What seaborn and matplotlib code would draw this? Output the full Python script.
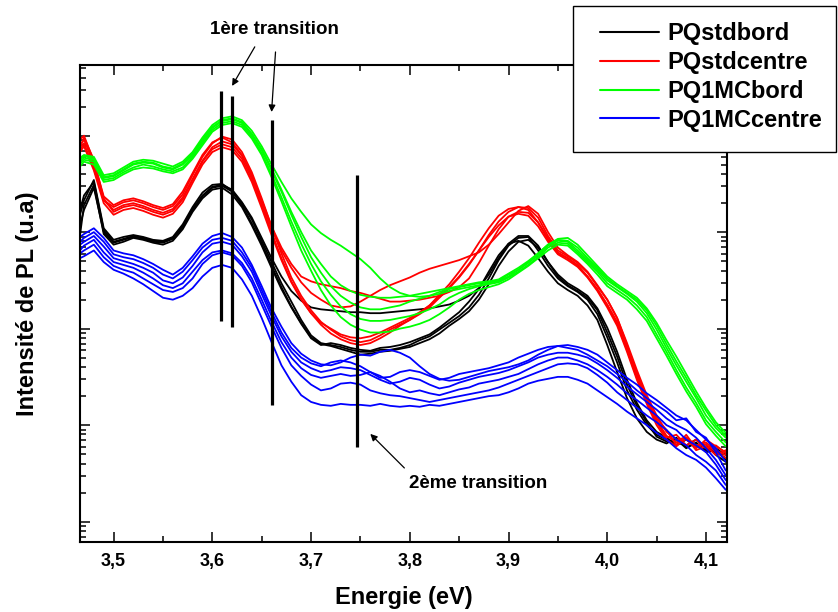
import numpy as np
import pandas as pd
import matplotlib
matplotlib.use('Agg')
import matplotlib.pyplot as plt
import seaborn as sns
from matplotlib.lines import Line2D
from matplotlib.patches import Rectangle
from matplotlib.ticker import MultipleLocator, LogLocator, NullFormatter, FuncFormatter

# photon energy (eV)
energy = [3.466, 3.47, 3.48, 3.49, 3.50, 3.51, 3.52, 3.53, 3.54, 3.55,
          3.56, 3.57, 3.58, 3.59, 3.60, 3.61, 3.62, 3.63, 3.64, 3.65,
          3.66, 3.67, 3.68, 3.69, 3.70, 3.71, 3.72, 3.73, 3.74, 3.75,
          3.76, 3.77, 3.78, 3.79, 3.80, 3.81, 3.82, 3.83, 3.84, 3.85,
          3.86, 3.87, 3.88, 3.89, 3.90, 3.91, 3.92, 3.93, 3.94, 3.95,
          3.96, 3.97, 3.98, 3.99, 4.00, 4.01, 4.02, 4.03, 4.04, 4.05,
          4.06, 4.07, 4.08, 4.09, 4.10, 4.11, 4.12]

# log10 of the PL intensity (a.u.), one list per measured spot
pq_std_bord = [
    [4.18, 4.33, 4.54, 4.04, 3.92, 3.95, 3.97, 3.95, 3.92, 3.91,
     3.95, 4.08, 4.26, 4.41, 4.49, 4.50, 4.43, 4.30, 4.13, 3.91,
     3.69, 3.47, 3.28, 3.09, 2.93, 2.85, 2.83, 2.81, 2.78, 2.76,
     2.76, 2.78, 2.78, 2.80, 2.83, 2.88, 2.92, 2.99, 3.06, 3.13,
     3.22, 3.35, 3.52, 3.71, 3.86, 3.94, 3.95, 3.81, 3.65, 3.52,
     3.44, 3.38, 3.30, 3.15, 2.91, 2.65, 2.36, 2.16, 2.00, 1.90,
     1.85, 1.82, 1.79, 1.85, 1.76, 1.72, 1.66],
    [4.07, 4.23, 4.46, 4.00, 3.89, 3.92, 3.95, 3.93, 3.90, 3.89,
     3.93, 4.05, 4.23, 4.37, 4.46, 4.48, 4.42, 4.28, 4.09, 3.88,
     3.65, 3.43, 3.23, 3.06, 2.91, 2.84, 2.82, 2.79, 2.76, 2.73,
     2.74, 2.76, 2.77, 2.79, 2.81, 2.85, 2.89, 2.95, 3.03, 3.10,
     3.18, 3.30, 3.46, 3.65, 3.80, 3.90, 3.92, 3.84, 3.69, 3.56,
     3.47, 3.41, 3.34, 3.21, 3.01, 2.76, 2.47, 2.23, 2.05, 1.93,
     1.87, 1.79, 1.85, 1.78, 1.80, 1.69, 1.62],
    [3.97, 4.28, 4.49, 3.98, 3.87, 3.90, 3.94, 3.92, 3.89, 3.87,
     3.91, 4.03, 4.21, 4.35, 4.44, 4.46, 4.39, 4.26, 4.07, 3.86,
     3.63, 3.41, 3.22, 3.05, 2.90, 2.83, 2.85, 2.83, 2.80, 2.78,
     2.77, 2.80, 2.81, 2.83, 2.86, 2.90, 2.94, 3.01, 3.09, 3.17,
     3.28, 3.41, 3.59, 3.76, 3.88, 3.91, 3.86, 3.73, 3.59, 3.47,
     3.40, 3.34, 3.24, 3.09, 2.83, 2.55, 2.28, 2.07, 1.93, 1.85,
     1.81, 1.87, 1.77, 1.81, 1.74, 1.76, 1.69],
    [4.23, 4.38, 4.52, 4.02, 3.90, 3.93, 3.96, 3.94, 3.91, 3.90,
     3.94, 4.06, 4.24, 4.38, 4.47, 4.49, 4.44, 4.31, 4.15, 3.94,
     3.73, 3.54, 3.39, 3.29, 3.22, 3.20, 3.19, 3.18, 3.17, 3.17,
     3.16, 3.16, 3.17, 3.18, 3.19, 3.20, 3.21, 3.23, 3.25, 3.29,
     3.34, 3.42, 3.56, 3.73, 3.88, 3.96, 3.96, 3.86, 3.69, 3.54,
     3.45, 3.39, 3.32, 3.19, 2.96, 2.71, 2.42, 2.20, 2.03, 1.88,
     1.83, 1.85, 1.76, 1.82, 1.72, 1.74, 1.64],
]

pq_std_centre = [
    [4.96, 5.00, 4.73, 4.37, 4.28, 4.33, 4.35, 4.32, 4.28, 4.25,
     4.29, 4.42, 4.61, 4.80, 4.93, 4.98, 4.93, 4.80, 4.58, 4.31,
     4.04, 3.81, 3.63, 3.48, 3.37, 3.30, 3.24, 3.22, 3.23, 3.28,
     3.34, 3.40, 3.45, 3.49, 3.53, 3.58, 3.62, 3.65, 3.68, 3.71,
     3.75, 3.79, 3.87, 3.98, 4.10, 4.22, 4.27, 4.19, 4.00, 3.84,
     3.76, 3.69, 3.59, 3.45, 3.30, 3.11, 2.83, 2.54, 2.28, 2.07,
     1.95, 1.79, 1.90, 1.76, 1.85, 1.78, 1.72],
    [4.85, 4.92, 4.66, 4.33, 4.23, 4.28, 4.30, 4.27, 4.23, 4.20,
     4.24, 4.36, 4.55, 4.74, 4.88, 4.94, 4.91, 4.79, 4.59, 4.33,
     4.06, 3.84, 3.67, 3.54, 3.49, 3.46, 3.44, 3.42, 3.39, 3.37,
     3.34, 3.31, 3.28, 3.28, 3.29, 3.30, 3.32, 3.34, 3.38, 3.43,
     3.52, 3.68, 3.86, 4.03, 4.16, 4.21, 4.20, 4.10, 3.94, 3.79,
     3.73, 3.66, 3.54, 3.41, 3.25, 3.07, 2.80, 2.51, 2.26, 2.05,
     1.89, 1.82, 1.85, 1.77, 1.80, 1.72, 1.66],
    [4.90, 4.96, 4.70, 4.33, 4.26, 4.31, 4.33, 4.30, 4.26, 4.23,
     4.27, 4.39, 4.59, 4.78, 4.92, 4.99, 4.96, 4.83, 4.62, 4.35,
     4.06, 3.78, 3.53, 3.34, 3.19, 3.07, 2.99, 2.92, 2.88, 2.86,
     2.88, 2.93, 2.99, 3.04, 3.09, 3.15, 3.22, 3.32, 3.42, 3.53,
     3.66, 3.81, 3.97, 4.11, 4.21, 4.26, 4.25, 4.15, 3.96, 3.81,
     3.75, 3.68, 3.58, 3.44, 3.30, 3.11, 2.85, 2.57, 2.31, 2.10,
     1.93, 1.85, 1.87, 1.79, 1.82, 1.74, 1.69],
    [4.87, 4.98, 4.75, 4.35, 4.21, 4.26, 4.28, 4.25, 4.21, 4.18,
     4.22, 4.34, 4.54, 4.73, 4.86, 4.91, 4.88, 4.76, 4.55, 4.28,
     4.00, 3.73, 3.49, 3.31, 3.16, 3.04, 2.95, 2.89, 2.85, 2.83,
     2.85, 2.90, 2.96, 3.03, 3.09, 3.16, 3.24, 3.35, 3.46, 3.59,
     3.73, 3.89, 4.04, 4.17, 4.24, 4.26, 4.23, 4.10, 3.92, 3.78,
     3.73, 3.65, 3.54, 3.40, 3.24, 3.05, 2.78, 2.49, 2.24, 2.03,
     1.87, 1.90, 1.79, 1.85, 1.76, 1.79, 1.71],
    [4.83, 4.89, 4.64, 4.30, 4.18, 4.23, 4.25, 4.22, 4.18, 4.15,
     4.19, 4.31, 4.51, 4.70, 4.83, 4.88, 4.85, 4.73, 4.52, 4.25,
     3.97, 3.71, 3.48, 3.30, 3.16, 3.06, 3.00, 2.94, 2.91, 2.90,
     2.92, 2.96, 3.01, 3.06, 3.11, 3.17, 3.24, 3.33, 3.43, 3.54,
     3.67, 3.81, 3.95, 4.07, 4.16, 4.19, 4.17, 4.06, 3.90, 3.77,
     3.71, 3.64, 3.53, 3.39, 3.22, 3.03, 2.76, 2.47, 2.22, 2.00,
     1.85, 1.78, 1.87, 1.74, 1.78, 1.69, 1.74],
]

pq_1mc_bord = [
    [4.77, 4.80, 4.78, 4.59, 4.61, 4.67, 4.73, 4.75, 4.74, 4.71,
     4.68, 4.73, 4.83, 4.98, 5.11, 5.18, 5.20, 5.16, 5.05, 4.89,
     4.70, 4.52, 4.35, 4.21, 4.08, 3.99, 3.92, 3.86, 3.79, 3.72,
     3.63, 3.52, 3.43, 3.37, 3.34, 3.33, 3.34, 3.36, 3.39, 3.41,
     3.43, 3.45, 3.47, 3.49, 3.54, 3.61, 3.69, 3.78, 3.87, 3.93,
     3.94, 3.87, 3.76, 3.65, 3.54, 3.46, 3.39, 3.32, 3.21, 3.06,
     2.88, 2.71, 2.53, 2.35, 2.18, 2.03, 1.92],
    [4.75, 4.79, 4.76, 4.57, 4.59, 4.65, 4.71, 4.73, 4.72, 4.68,
     4.66, 4.71, 4.81, 4.96, 5.09, 5.16, 5.18, 5.14, 5.02, 4.86,
     4.66, 4.44, 4.21, 4.00, 3.81, 3.67, 3.54, 3.45, 3.39, 3.35,
     3.33, 3.32, 3.32, 3.33, 3.34, 3.36, 3.38, 3.40, 3.42, 3.44,
     3.46, 3.48, 3.49, 3.51, 3.57, 3.63, 3.70, 3.78, 3.87, 3.92,
     3.91, 3.84, 3.73, 3.63, 3.52, 3.44, 3.37, 3.30, 3.19, 3.03,
     2.84, 2.66, 2.49, 2.31, 2.15, 2.00, 1.89],
    [4.73, 4.77, 4.75, 4.56, 4.58, 4.64, 4.70, 4.72, 4.71, 4.67,
     4.65, 4.70, 4.80, 4.94, 5.08, 5.15, 5.17, 5.13, 5.01, 4.85,
     4.64, 4.42, 4.18, 3.95, 3.74, 3.58, 3.44, 3.34, 3.27, 3.22,
     3.20, 3.20, 3.22, 3.24, 3.28, 3.31, 3.34, 3.38, 3.41, 3.43,
     3.45, 3.47, 3.48, 3.50, 3.56, 3.61, 3.68, 3.76, 3.86, 3.91,
     3.90, 3.81, 3.71, 3.61, 3.50, 3.43, 3.36, 3.28, 3.16, 2.99,
     2.80, 2.62, 2.45, 2.28, 2.10, 1.97, 1.87],
    [4.71, 4.75, 4.73, 4.54, 4.56, 4.62, 4.67, 4.70, 4.68, 4.65,
     4.63, 4.67, 4.78, 4.92, 5.06, 5.13, 5.15, 5.11, 4.99, 4.82,
     4.60, 4.36, 4.11, 3.88, 3.67, 3.49, 3.35, 3.23, 3.15, 3.10,
     3.08, 3.08, 3.09, 3.11, 3.13, 3.16, 3.20, 3.25, 3.32, 3.37,
     3.41, 3.44, 3.46, 3.48, 3.53, 3.59, 3.66, 3.74, 3.84, 3.89,
     3.88, 3.79, 3.69, 3.59, 3.47, 3.40, 3.33, 3.24, 3.12, 2.94,
     2.76, 2.57, 2.39, 2.23, 2.05, 1.93, 1.82],
    [4.68, 4.73, 4.70, 4.52, 4.54, 4.60, 4.65, 4.67, 4.66, 4.63,
     4.61, 4.65, 4.76, 4.90, 5.04, 5.11, 5.13, 5.09, 4.97, 4.80,
     4.57, 4.32, 4.06, 3.81, 3.60, 3.40, 3.24, 3.12, 3.04, 2.99,
     2.96, 2.96, 2.97, 3.00, 3.02, 3.05, 3.09, 3.15, 3.22, 3.30,
     3.36, 3.40, 3.43, 3.46, 3.51, 3.58, 3.65, 3.73, 3.81, 3.87,
     3.86, 3.77, 3.67, 3.56, 3.44, 3.37, 3.30, 3.20, 3.08, 2.90,
     2.72, 2.53, 2.35, 2.19, 2.01, 1.89, 1.78],
]

pq_1mc_centre = [
    [3.95, 3.98, 4.04, 3.94, 3.81, 3.78, 3.76, 3.72, 3.67, 3.61,
     3.56, 3.63, 3.75, 3.88, 3.96, 3.99, 3.95, 3.84, 3.66, 3.44,
     3.21, 3.02, 2.85, 2.74, 2.67, 2.63, 2.62, 2.65, 2.70, 2.73,
     2.72, 2.76, 2.78, 2.75, 2.70, 2.61, 2.53, 2.48, 2.46, 2.47,
     2.50, 2.53, 2.56, 2.58, 2.60, 2.63, 2.67, 2.73, 2.78, 2.82,
     2.83, 2.81, 2.78, 2.73, 2.65, 2.57, 2.49, 2.42, 2.33, 2.26,
     2.18, 2.10, 2.05, 1.95, 1.85, 1.76, 1.62],
    [3.90, 3.94, 4.00, 3.90, 3.77, 3.74, 3.72, 3.68, 3.63, 3.56,
     3.52, 3.59, 3.71, 3.84, 3.92, 3.94, 3.91, 3.79, 3.63, 3.40,
     3.17, 2.96, 2.80, 2.70, 2.64, 2.61, 2.65, 2.67, 2.65, 2.61,
     2.55, 2.49, 2.50, 2.55, 2.57, 2.55, 2.51, 2.47, 2.49, 2.53,
     2.55, 2.57, 2.59, 2.62, 2.65, 2.70, 2.74, 2.78, 2.81, 2.82,
     2.80, 2.78, 2.73, 2.67, 2.61, 2.53, 2.45, 2.36, 2.28, 2.21,
     2.14, 2.05, 2.07, 1.93, 1.87, 1.72, 1.53],
    [3.87, 3.90, 3.96, 3.85, 3.73, 3.70, 3.67, 3.63, 3.58, 3.50,
     3.47, 3.53, 3.65, 3.79, 3.88, 3.90, 3.87, 3.75, 3.59, 3.36,
     3.13, 2.92, 2.76, 2.65, 2.59, 2.55, 2.57, 2.60, 2.59, 2.57,
     2.52, 2.47, 2.43, 2.45, 2.49, 2.47, 2.42, 2.38, 2.40, 2.44,
     2.47, 2.50, 2.52, 2.54, 2.57, 2.61, 2.65, 2.70, 2.73, 2.75,
     2.75, 2.73, 2.70, 2.64, 2.57, 2.49, 2.40, 2.32, 2.24, 2.16,
     2.07, 2.00, 1.95, 1.87, 1.76, 1.64, 1.48],
    [3.81, 3.86, 3.92, 3.79, 3.69, 3.66, 3.63, 3.58, 3.52, 3.45,
     3.42, 3.47, 3.59, 3.71, 3.79, 3.81, 3.78, 3.68, 3.52, 3.30,
     3.07, 2.86, 2.70, 2.59, 2.52, 2.49, 2.51, 2.53, 2.51, 2.52,
     2.55, 2.51, 2.45, 2.38, 2.34, 2.36, 2.33, 2.31, 2.34, 2.37,
     2.39, 2.43, 2.45, 2.47, 2.50, 2.53, 2.58, 2.63, 2.67, 2.70,
     2.70, 2.67, 2.63, 2.57, 2.50, 2.42, 2.33, 2.26, 2.18, 2.10,
     2.00, 1.95, 1.85, 1.79, 1.72, 1.59, 1.43],
    [3.78, 3.81, 3.87, 3.74, 3.65, 3.61, 3.58, 3.52, 3.46, 3.40,
     3.38, 3.42, 3.52, 3.67, 3.76, 3.79, 3.76, 3.65, 3.48, 3.25,
     3.02, 2.80, 2.62, 2.51, 2.42, 2.36, 2.38, 2.43, 2.44, 2.42,
     2.36, 2.33, 2.31, 2.30, 2.28, 2.26, 2.24, 2.26, 2.28, 2.30,
     2.32, 2.34, 2.36, 2.39, 2.43, 2.47, 2.51, 2.55, 2.59, 2.63,
     2.64, 2.63, 2.59, 2.52, 2.44, 2.34, 2.26, 2.18, 2.10, 2.03,
     1.95, 1.85, 1.79, 1.69, 1.62, 1.53, 1.38],
    [3.73, 3.75, 3.81, 3.69, 3.61, 3.57, 3.52, 3.46, 3.39, 3.32,
     3.30, 3.34, 3.42, 3.54, 3.63, 3.66, 3.63, 3.51, 3.34, 3.11,
     2.86, 2.62, 2.45, 2.31, 2.24, 2.21, 2.20, 2.22, 2.21, 2.21,
     2.20, 2.22, 2.20, 2.19, 2.20, 2.19, 2.21, 2.20, 2.22, 2.24,
     2.26, 2.28, 2.30, 2.31, 2.34, 2.38, 2.43, 2.46, 2.48, 2.50,
     2.50, 2.47, 2.43, 2.36, 2.29, 2.22, 2.14, 2.07, 2.00, 1.92,
     1.85, 1.76, 1.69, 1.64, 1.56, 1.45, 1.33],
]

samples = ['PQstdbord', 'PQstdcentre', 'PQ1MCbord', 'PQ1MCcentre']
colors = ['#000000', '#ff0000', '#00ff00', '#0000ff']

# markers of the transitions (energy, log10 bottom, log10 top)
trans_energy = [3.609, 3.620, 3.660, 3.747]
trans_low = [3.08, 3.02, 2.21, 1.77]
trans_high = [5.46, 5.41, 5.16, 4.59]

# build a long table for seaborn
rows = []
for name, curves in zip(samples, [pq_std_bord, pq_std_centre, pq_1mc_bord, pq_1mc_centre]):
    for k, curve in enumerate(curves):
        for e, v in zip(energy, curve):
            rows.append((name, f'{name}_{k}', e, 10 ** v))
df = pd.DataFrame(rows, columns=['sample', 'curve', 'energy', 'intensity'])

sns.set_style('ticks')
plt.rcParams['font.family'] = ['Liberation Sans', 'DejaVu Sans']
plt.rcParams['font.weight'] = 'bold'
plt.rcParams['text.color'] = 'black'
plt.rcParams['axes.labelcolor'] = 'black'
plt.rcParams['xtick.color'] = 'black'
plt.rcParams['ytick.color'] = 'black'

fig = plt.figure(figsize=(8.38, 6.12), dpi=100)
ax = fig.add_axes([0.0955, 0.1149, 0.7717, 0.7789])
ax.set_yscale('log')

sns.lineplot(data=df, x='energy', y='intensity', hue='sample', units='curve',
             estimator=None, hue_order=samples, palette=colors, linewidth=1.3,
             sort=False, legend=False, ax=ax)

ax.vlines(trans_energy, [10 ** v for v in trans_low], [10 ** v for v in trans_high],
          color='black', linewidth=2.3)

ax.set_xlim(3.466, 4.121)
ax.set_ylim(10 ** 0.792, 10 ** 5.732)

# annotations
arrow = dict(arrowstyle='-|>', color='black', lw=0.9, mutation_scale=10, shrinkA=0, shrinkB=0)
ax.text(3.663, 10 ** 6.095, '1ère transition', ha='center', va='center', fontsize=13.5,
        fontweight='bold', clip_on=False)
ax.annotate('', xy=(3.620, 10 ** 5.515), xytext=(3.643, 10 ** 5.92), arrowprops=arrow,
            annotation_clip=False)
ax.annotate('', xy=(3.660, 10 ** 5.245), xytext=(3.664, 10 ** 5.867), arrowprops=arrow,
            annotation_clip=False)
ax.text(3.8695, 10 ** 1.39, '2ème transition', ha='center', va='center', fontsize=13.5,
        fontweight='bold')
ax.annotate('', xy=(3.760, 10 ** 1.909), xytext=(3.7945, 10 ** 1.556), arrowprops=arrow)

# axes / ticks
ax.xaxis.set_major_locator(MultipleLocator(0.1))
ax.xaxis.set_minor_locator(MultipleLocator(0.05))
ax.xaxis.set_major_formatter(FuncFormatter(lambda v, p: f'{v:.1f}'.replace('.', ',')))
ax.yaxis.set_major_locator(LogLocator(base=10, numticks=20))
ax.yaxis.set_minor_locator(LogLocator(base=10, subs=np.arange(2, 10), numticks=20))
ax.yaxis.set_major_formatter(NullFormatter())
ax.yaxis.set_minor_formatter(NullFormatter())
ax.tick_params(which='both', direction='in', top=True, right=True, width=1.1, color='black')
ax.tick_params(which='major', length=7)
ax.tick_params(which='minor', length=4)
ax.tick_params(axis='x', labelsize=13, pad=8, labelcolor='black')
for s in ax.spines.values():
    s.set_linewidth(1.5)
    s.set_color('black')

ax.set_xlabel('Energie (eV)', fontsize=17, fontweight='bold')
ax.xaxis.set_label_coords(0.5, -0.093)
ax.set_ylabel('Intensité de PL (u.a)', fontsize=17, fontweight='bold')
ax.yaxis.set_label_coords(-0.064, 0.5)

# legend: frameless entries inside a drawn box
fig.patches.append(Rectangle((573 / 838, 1 - 152 / 612), 263 / 838, 146 / 612,
                             transform=fig.transFigure, facecolor='white',
                             edgecolor='black', linewidth=1.0, zorder=5))
handles = [Line2D([0], [0], color=c, lw=1.5) for c in colors]
leg = fig.legend(handles, samples, loc='upper left', bbox_to_anchor=(600 / 838, 1 - 22 / 612),
                 prop={'weight': 'bold', 'size': 17}, handlelength=2.5, handletextpad=0.35,
                 borderpad=0, labelspacing=0.25, borderaxespad=0, frameon=False)
leg.set_zorder(6)

fig.savefig('out.png', dpi=100)
